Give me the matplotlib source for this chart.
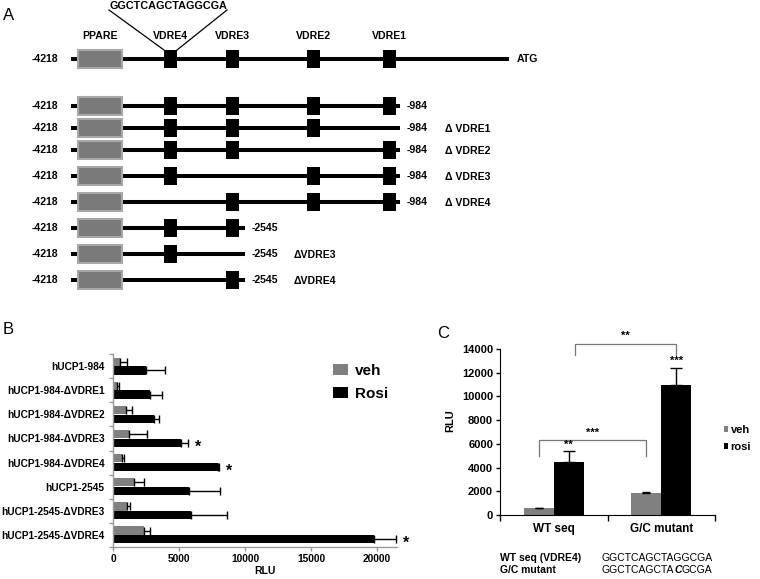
import matplotlib
matplotlib.use('Agg')
import matplotlib.pyplot as plt
from matplotlib.patches import Rectangle, Patch
import numpy as np

plt.rcParams['font.family'] = ['Liberation Sans', 'DejaVu Sans']

# ---------------- data ----------------
# Panel A: construct schematic (diagram units = pixels of the figure)
element_names = ['PPARE', 'VDRE4', 'VDRE3', 'VDRE2', 'VDRE1']
element_x = [100, 170.5, 232, 313, 389.5]
motif_seq = 'GGCTCAGCTAGGCGA'
construct_start = '-4218'
construct_end_labels = ['ATG', '-984', '-984', '-984', '-984', '-984', '-2545', '-2545', '-2545']
construct_delta_labels = ['', '', '\u0394 VDRE1', '\u0394 VDRE2', '\u0394 VDRE3', '\u0394 VDRE4',
                          '', '\u0394VDRE3', '\u0394VDRE4']
construct_vdres = [['VDRE4', 'VDRE3', 'VDRE2', 'VDRE1'],
                   ['VDRE4', 'VDRE3', 'VDRE2', 'VDRE1'],
                   ['VDRE4', 'VDRE3', 'VDRE2'],
                   ['VDRE4', 'VDRE3', 'VDRE1'],
                   ['VDRE4', 'VDRE2', 'VDRE1'],
                   ['VDRE3', 'VDRE2', 'VDRE1'],
                   ['VDRE4', 'VDRE3'],
                   ['VDRE4'],
                   ['VDRE3']]
construct_end_x = [509, 400, 400, 400, 400, 400, 245, 245, 245]
construct_row_y = [59, 106, 128, 150, 176, 202, 228, 254, 280]

# Panel B
cats_b = ['hUCP1-984', 'hUCP1-984-\u0394VDRE1', 'hUCP1-984-\u0394VDRE2', 'hUCP1-984-\u0394VDRE3',
          'hUCP1-984-\u0394VDRE4', 'hUCP1-2545', 'hUCP1-2545-\u0394VDRE3', 'hUCP1-2545-\u0394VDRE4']
veh_b = [555, 303, 960, 1212, 707, 1566, 1060, 2323]
veh_b_err = [505, 152, 505, 1389, 101, 784, 253, 455]
rosi_b = [2475, 2778, 3081, 5126, 7955, 5758, 5934, 19747]
rosi_b_err = [1465, 909, 404, 581, 80, 2322, 2702, 1667]
sig_b = ['', '', '', '*', '*', '', '', '*']
xticks_b = [0, 5000, 10000, 15000, 20000]

# Panel C
groups_c = ['WT seq', 'G/C mutant']
veh_c = [550, 1850]
veh_c_err = [70, 110]
rosi_c = [4450, 10980]
rosi_c_err = [930, 1430]
yticks_c = [0, 2000, 4000, 6000, 8000, 10000, 12000, 14000]
seq_names = ['WT seq (VDRE4)', 'G/C mutant']
seq_wt = 'GGCTCAGCTAGGCGA'
seq_mut = ['GGCTCAGCTA', 'C', 'GCGA']

GRAY = '#808080'
W, H = 760, 579
fig = plt.figure(figsize=(7.6, 5.79), dpi=100)

# ---------------- overlay axes (panel A + letters) ----------------
ov = fig.add_axes([0, 0, 1, 1])
ov.set_xlim(0, W)
ov.set_ylim(H, 0)
ov.axis('off')

fs_a = 7.6
for i, y in enumerate(construct_row_y):
    ov.plot([71, construct_end_x[i]], [y, y], color='black', lw=2.9, solid_capstyle='butt', zorder=1)
    ov.add_patch(Rectangle((78, y - 9), 44, 18, facecolor='#7a7a7a', edgecolor='#a8a8a8', lw=1.5, zorder=2))
    for name in construct_vdres[i]:
        cx = element_x[element_names.index(name)]
        ov.add_patch(Rectangle((cx - 6.5, y - 9), 13, 18, facecolor='black', edgecolor='none', zorder=3))
    ov.text(58, y, construct_start, ha='right', va='center', fontsize=fs_a, fontweight='bold')
    if i == 0:
        ov.text(517, y, construct_end_labels[i], ha='left', va='center', fontsize=fs_a, fontweight='bold')
    else:
        ov.text(construct_end_x[i] + 7, y, construct_end_labels[i], ha='left', va='center',
                fontsize=fs_a, fontweight='bold')
        if construct_delta_labels[i]:
            dx = 45 if construct_end_x[i] > 300 else 49
            ov.text(construct_end_x[i] + dx, y + 1, construct_delta_labels[i], ha='left', va='center',
                    fontsize=fs_a, fontweight='bold')

for name, x in zip(element_names, element_x):
    ov.text(x, 36, name, ha='center', va='center', fontsize=fs_a, fontweight='bold')

# motif callout
ov.text(168, 6, motif_seq, ha='center', va='center', fontsize=7.8, fontweight='bold')
ov.plot([109, 164], [10, 50], color='black', lw=0.9)
ov.plot([227, 177], [10, 50], color='black', lw=0.9)

# panel letters
ov.text(3, 15, 'A', ha='left', va='center', fontsize=12)
ov.text(3, 330, 'B', ha='left', va='center', fontsize=12)
ov.text(437, 333, 'C', ha='left', va='center', fontsize=12)

# sequences under C
fs_s = 7.5
ov.text(500, 558, seq_names[0], ha='left', va='center', fontsize=fs_s, fontweight='bold')
ov.text(500, 570, seq_names[1], ha='left', va='center', fontsize=fs_s, fontweight='bold')
ov.text(602, 558, seq_wt, ha='left', va='center', fontsize=fs_s)
t1 = ov.text(602, 570, seq_mut[0], ha='left', va='center', fontsize=fs_s)
t2 = ov.annotate(seq_mut[1], xy=(1, 0), xycoords=t1, ha='left', va='bottom', fontsize=fs_s,
                 fontweight='bold', fontstyle='italic')
ov.annotate(seq_mut[2], xy=(1, 0), xycoords=t2, ha='left', va='bottom', fontsize=fs_s)

# ---------------- panel B ----------------
axb = fig.add_axes([113 / W, (H - 547) / H, 284 / W, 193 / H])
yb = np.arange(len(cats_b))
off, hb = 0.18, 0.34
axb.barh(yb - off, veh_b, height=hb, color=GRAY, zorder=2)
axb.barh(yb + off, rosi_b, height=hb, color='black', zorder=2)
axb.errorbar(veh_b, yb - off, xerr=[np.zeros(len(veh_b)), veh_b_err], fmt='none', ecolor='black',
             elinewidth=1, capsize=3, capthick=1, zorder=3)
axb.errorbar(rosi_b, yb + off, xerr=[np.zeros(len(rosi_b)), rosi_b_err], fmt='none', ecolor='black',
             elinewidth=1, capsize=3, capthick=1, zorder=3)
for i, s in enumerate(sig_b):
    if s:
        axb.annotate(s, xy=(rosi_b[i] + rosi_b_err[i], yb[i] + off), xytext=(5, -3),
                     textcoords='offset points', ha='left', va='center', fontsize=11.5,
                     fontweight='bold', annotation_clip=False)
axb.set_xlim(0, 21500)
axb.set_ylim(len(cats_b) - 0.5, -0.5)
axb.set_xticks(xticks_b)
axb.set_xticklabels([str(v) for v in xticks_b], fontsize=7.4, fontweight='bold')
axb.set_yticks(yb)
axb.set_yticklabels(cats_b, fontsize=7.3, fontweight='bold')
axb.set_yticks(np.arange(-0.5, len(cats_b), 1.0), minor=True)
axb.tick_params(axis='y', which='major', length=0, pad=6)
axb.tick_params(axis='y', which='minor', length=3, color='#999999', width=1)
axb.tick_params(axis='x', which='major', length=3, color='#999999', width=1, pad=2)
for sp in ['top', 'right']:
    axb.spines[sp].set_visible(False)
for sp in ['left', 'bottom']:
    axb.spines[sp].set_color('#999999')
    axb.spines[sp].set_linewidth(1)
axb.set_xlabel('RLU', fontsize=7.5, fontweight='bold')
axb.xaxis.set_label_coords((265 - 113) / 284, (547 - 566) / 193)
axb.legend(handles=[Patch(facecolor=GRAY, edgecolor='none'), Patch(facecolor='black', edgecolor='none')],
           labels=['veh', 'Rosi'], loc='upper left',
           bbox_to_anchor=(333 / W, (H - 364) / H), bbox_transform=fig.transFigure,
           frameon=False, prop={'weight': 'bold', 'size': 11},
           handlelength=0.95, handleheight=0.7, handletextpad=0.5,
           labelspacing=0.6, borderpad=0, borderaxespad=0)

# ---------------- panel C ----------------
axc = fig.add_axes([500 / W, (H - 515) / H, 215 / W, 166 / H])
xc = np.arange(len(groups_c))
w = 0.28
axc.bar(xc - w / 2, veh_c, width=w, color=GRAY, zorder=2)
axc.bar(xc + w / 2, rosi_c, width=w, color='black', zorder=2)
axc.errorbar(xc - w / 2, veh_c, yerr=[np.zeros(2), veh_c_err], fmt='none', ecolor='black',
             elinewidth=1, capsize=3, capthick=1, zorder=3)
axc.errorbar(xc + w / 2, rosi_c, yerr=[np.zeros(2), rosi_c_err], fmt='none', ecolor='black',
             elinewidth=1, capsize=4, capthick=1, zorder=3)
axc.set_xlim(-0.5, 1.5)
axc.set_ylim(0, 14000)
axc.set_yticks(yticks_c)
axc.set_yticklabels([str(v) for v in yticks_c], fontsize=8, fontweight='bold')
axc.set_xticks(xc)
axc.set_xticklabels(groups_c, fontsize=8.5, fontweight='bold')
axc.set_xticks([-0.5, 0.5, 1.5], minor=True)
axc.tick_params(axis='x', which='major', length=0, pad=6)
axc.tick_params(axis='x', which='minor', length=4, width=1)
axc.tick_params(axis='y', which='major', length=3, width=1, pad=2)
for sp in ['top', 'right']:
    axc.spines[sp].set_visible(False)
axc.set_ylabel('RLU', fontsize=8, fontweight='bold')
axc.yaxis.set_label_coords((455 - 500) / 215, 0.57)

# significance brackets in C
br = '#777777'
bx0, bx1, by, byl = 0.2, 1.14, 14450, 13500
axc.plot([bx0, bx0, bx1, bx1], [byl, by, by, byl], color=br, lw=0.9, clip_on=False)
axc.text((bx0 + bx1) / 2, by + 250, '**', ha='center', va='bottom', fontsize=8, fontweight='bold', clip_on=False)
lx0, lx1, ly, lyl = -0.14, 0.86, 6300, 5000
axc.plot([lx0, lx0, lx1, lx1], [lyl, ly, ly, lyl], color=br, lw=0.9, clip_on=False)
axc.text((lx0 + lx1) / 2, ly + 200, '***', ha='center', va='bottom', fontsize=8, fontweight='bold')
axc.text(xc[0] + w / 2, rosi_c[0] + rosi_c_err[0] + 150, '**', ha='center', va='bottom', fontsize=8, fontweight='bold')
axc.text(xc[1] + w / 2, rosi_c[1] + rosi_c_err[1] + 150, '***', ha='center', va='bottom', fontsize=8, fontweight='bold')

axc.legend(handles=[Patch(facecolor=GRAY, edgecolor='none'), Patch(facecolor='black', edgecolor='none')],
           labels=['veh', 'rosi'], loc='upper left',
           bbox_to_anchor=(724 / W, (H - 425) / H), bbox_transform=fig.transFigure,
           frameon=False, prop={'weight': 'bold', 'size': 8},
           handlelength=0.4, handleheight=0.5, handletextpad=0.2,
           labelspacing=0.6, borderpad=0, borderaxespad=0)

fig.savefig('out.png', dpi=100)
